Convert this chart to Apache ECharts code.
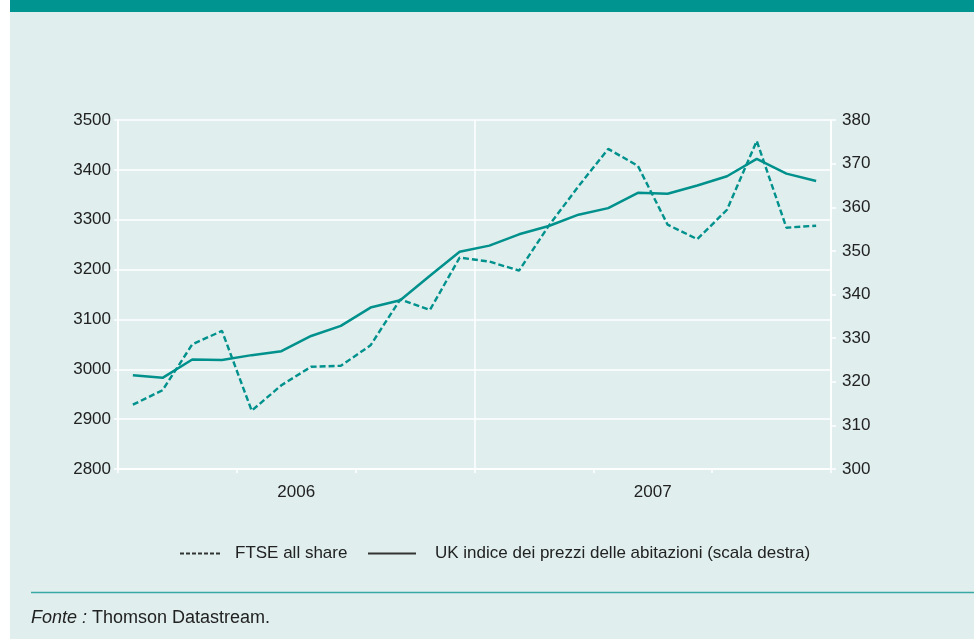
<!DOCTYPE html>
<html>
<head>
<meta charset="utf-8">
<script src="https://cdn.jsdelivr.net/npm/echarts@6/dist/echarts.min.js"></script>
<style>
html,body{margin:0;padding:0;background:#fff;}
#c{width:974px;height:639px;}
</style>
</head>
<body>
<div id="c"></div>
<script>
const months = ['2006-01','2006-02','2006-03','2006-04','2006-05','2006-06','2006-07','2006-08','2006-09','2006-10','2006-11','2006-12',
                '2007-01','2007-02','2007-03','2007-04','2007-05','2007-06','2007-07','2007-08','2007-09','2007-10','2007-11','2007-12'];
const years = ['2006','2007'];
const ftse = [2929,2958,3050,3077,2917,2968,3005,3007,3048,3140,3119,3224,
              3216,3198,3288,3367,3442,3408,3290,3261,3320,3458,3284,3288];
const housePrices = [321.5,320.9,325.1,325.0,326.1,327.0,330.5,332.8,337.0,338.7,344.3,349.8,
                     351.2,353.8,355.7,358.3,359.8,363.3,363.1,365.0,367.1,371.1,367.7,366.0];
const ftseName = 'FTSE all share';
const hpName = 'UK indice dei prezzi delle abitazioni (scala destra)';

const FONT = '"Liberation Sans", Arial, Helvetica, sans-serif';
const TEAL = '#00918c';
const TXT = '#222';
const FS = 17;

const chart = echarts.init(document.getElementById('c'), null, {renderer:'canvas'});
chart.setOption({
  backgroundColor: '#e0eeee',
  animation: false,
  textStyle: {fontFamily: FONT},
  grid: {left: 118, right: 143, top: 120, bottom: 170, containLabel: false},
  graphic: [
    {type:'rect', shape:{x:0,y:0,width:10,height:639}, style:{fill:'#ffffff'}, silent:true},
    {type:'rect', shape:{x:10,y:0,width:964,height:12}, style:{fill:'#009490'}, silent:true},
    {type:'line', shape:{x1:31,y1:592.5,x2:974,y2:592.5}, style:{stroke:'#3aa8a5', lineWidth:1.5}, silent:true},
    {type:'text', x:31, y:618, silent:true,
      style:{text:'{i|Fonte :} Thomson Datastream.', fontSize:18, fontFamily:FONT, fill:TXT, verticalAlign:'middle',
        rich:{i:{fontStyle:'italic', fontSize:18, fontFamily:FONT, fill:TXT}}}}
  ],
  legend: [
    {data:[{name:ftseName, lineStyle:{color:'#333', type:[4,2], width:2}}],
      left:179, top:545, padding:0, itemWidth:41, itemHeight:16,
      itemStyle:{color:'transparent', borderColor:'transparent', borderWidth:0},
      textStyle:{fontSize:FS, color:TXT, fontFamily:FONT, padding:[0,0,0,9]}},
    {data:[{name:hpName, lineStyle:{color:'#333', width:2}}],
      left:367, top:545, padding:0, itemWidth:48, itemHeight:16,
      itemStyle:{color:'transparent', borderColor:'transparent', borderWidth:0},
      textStyle:{fontSize:FS, color:TXT, fontFamily:FONT, padding:[0,0,0,14]}}
  ],
  xAxis: [
    {type:'category', data:months, boundaryGap:true, position:'bottom',
      axisLine:{show:true, lineStyle:{color:'#fff', width:1.5}},
      axisTick:{show:true, interval:3, length:4, lineStyle:{color:'#fff', width:1.5}},
      axisLabel:{show:false}, splitLine:{show:false}},
    {type:'category', data:years, boundaryGap:true, position:'bottom', offset:0,
      axisLine:{show:false}, axisTick:{show:false},
      axisLabel:{show:true, fontSize:FS, color:TXT, fontFamily:FONT, margin:15},
      splitLine:{show:true, lineStyle:{color:'#fff', width:1.5}}}
  ],
  yAxis: [
    {type:'value', position:'left', min:2800, max:3500, interval:100,
      axisLine:{show:true, lineStyle:{color:'#fff', width:1.5}},
      axisTick:{show:true, length:4, lineStyle:{color:'#fff', width:1.5}},
      axisLabel:{fontSize:FS, color:TXT, fontFamily:FONT, margin:7, formatter:function(v){return String(v);}},
      splitLine:{show:true, lineStyle:{color:'#fff', width:1.5}}},
    {type:'value', position:'right', min:300, max:380, interval:10,
      axisLine:{show:true, lineStyle:{color:'#fff', width:1.5}},
      axisTick:{show:true, length:5, lineStyle:{color:'#fff', width:1.5}},
      axisLabel:{fontSize:FS, color:TXT, fontFamily:FONT, margin:11, formatter:function(v){return String(v);}},
      splitLine:{show:false}}
  ],
  series: [
    {name:ftseName, type:'line', xAxisIndex:0, yAxisIndex:0, data:ftse, symbol:'none', showSymbol:false,
      lineStyle:{color:TEAL, width:2.4, type:[6,3]}, itemStyle:{color:TEAL}, z:3},
    {name:hpName, type:'line', xAxisIndex:0, yAxisIndex:1, data:housePrices, symbol:'none', showSymbol:false,
      lineStyle:{color:TEAL, width:2.5, type:'solid'}, itemStyle:{color:TEAL}, z:4}
  ]
});
</script>
</body>
</html>
